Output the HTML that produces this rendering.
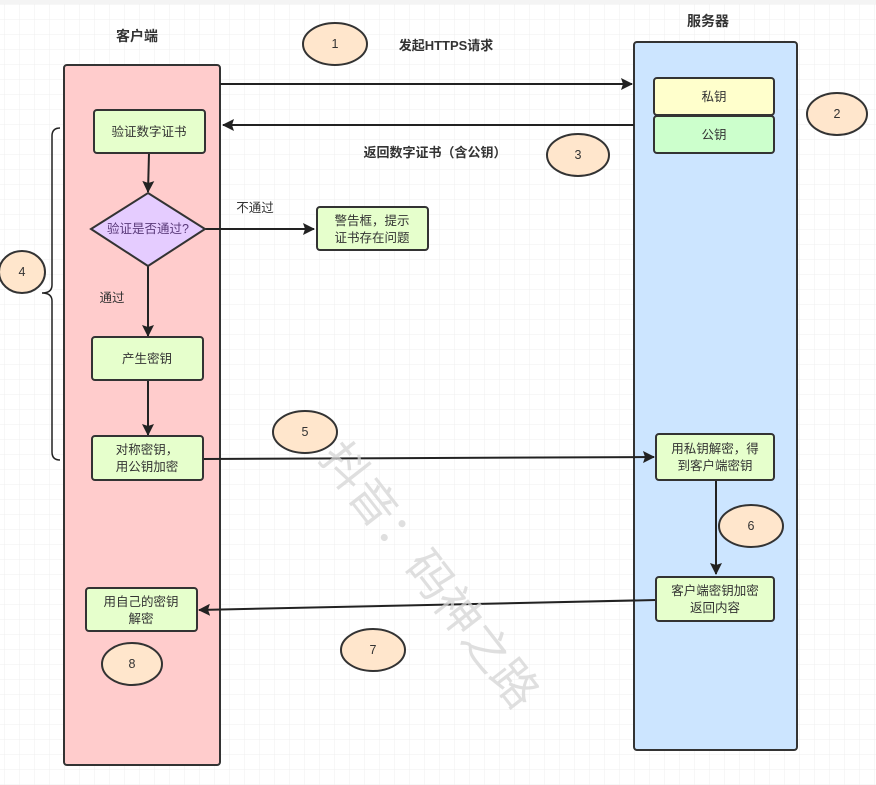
<!DOCTYPE html>
<html><head><meta charset="utf-8"><style>
html,body{margin:0;padding:0;background:#fff;}
svg{display:block;}
text{font-family:"Liberation Sans","Noto Sans CJK SC",sans-serif;}
</style></head><body>
<svg width="876" height="785" viewBox="0 0 876 785" xmlns="http://www.w3.org/2000/svg">
<defs>
<pattern id="g" width="15" height="15" patternUnits="userSpaceOnUse" x="5" y="5">
<path d="M15 0V15M0 15H15" fill="none" stroke="#efefef" stroke-width="1"/>
</pattern>
<marker id="a" markerWidth="12" markerHeight="12" refX="11" refY="6" orient="auto" markerUnits="userSpaceOnUse">
<path d="M0 0L12 6L0 12L2 6Z" fill="#222"/>
</marker>
</defs>
<rect width="876" height="785" fill="url(#g)"/>
<rect x="0" y="0" width="876" height="4" fill="#f4f4f4"/>

<rect x="64" y="65" width="156" height="700" rx="3" fill="#ffcccc" stroke="#333" stroke-width="2"/>
<rect x="634" y="42" width="163" height="708" rx="3" fill="#cce5ff" stroke="#333" stroke-width="2"/>
<text x="137" y="41" font-size="14" font-weight="bold" text-anchor="middle" fill="#333">客户端</text>
<text x="708" y="26" font-size="14" font-weight="bold" text-anchor="middle" fill="#333">服务器</text>

<g stroke="#222" stroke-width="2" fill="none">
<path d="M220 84H632" marker-end="url(#a)"/>
<path d="M634 125H223" marker-end="url(#a)"/>
<path d="M149 153L148 192" marker-end="url(#a)"/>
<path d="M205 229H314" marker-end="url(#a)"/>
<path d="M148 266V336" marker-end="url(#a)"/>
<path d="M148 380V435" marker-end="url(#a)"/>
<path d="M203 459L654 457" marker-end="url(#a)"/>
<path d="M716 480V574" marker-end="url(#a)"/>
<path d="M656 600L199 610" marker-end="url(#a)"/>
<path d="M60 128Q52 128 52 136V285Q52 293 42 293Q52 293 52 301V452Q52 460 60 460" stroke-width="1.5"/>
</g>

<g stroke="#333" stroke-width="2">
<rect x="654" y="78" width="120" height="37" rx="3" fill="#ffffcc"/>
<rect x="654" y="116" width="120" height="37" rx="3" fill="#ccffcc"/>
<rect x="94" y="110" width="111" height="43" rx="3" fill="#e6ffcc"/>
<path d="M148 193L205 229L148 266L91 229Z" fill="#e5ccff"/>
<rect x="317" y="207" width="111" height="43" rx="3" fill="#e6ffcc"/>
<rect x="92" y="337" width="111" height="43" rx="3" fill="#e6ffcc"/>
<rect x="92" y="436" width="111" height="44" rx="3" fill="#e6ffcc"/>
<rect x="656" y="434" width="118" height="46" rx="3" fill="#e6ffcc"/>
<rect x="656" y="577" width="118" height="44" rx="3" fill="#e6ffcc"/>
<rect x="86" y="588" width="111" height="43" rx="3" fill="#e6ffcc"/>
<g fill="#ffe6cc">
<ellipse cx="335" cy="44" rx="32" ry="21"/>
<ellipse cx="837" cy="114" rx="30" ry="21"/>
<ellipse cx="578" cy="155" rx="31" ry="21"/>
<ellipse cx="22" cy="272" rx="23" ry="21"/>
<ellipse cx="305" cy="432" rx="32" ry="21"/>
<ellipse cx="751" cy="526" rx="32" ry="21"/>
<ellipse cx="373" cy="650" rx="32" ry="21"/>
<ellipse cx="132" cy="664" rx="30" ry="21"/>
</g>
</g>

<g font-size="12.5" fill="#333" text-anchor="middle">
<text x="335" y="48">1</text><text x="837" y="118">2</text><text x="578" y="159">3</text>
<text x="22" y="276">4</text><text x="305" y="436">5</text><text x="751" y="530">6</text>
<text x="373" y="654">7</text><text x="132" y="668">8</text>
<text x="714" y="101">私钥</text>
<text x="714" y="139">公钥</text>
<text x="149" y="136">验证数字证书</text>
<text x="148" y="233" fill="#5a3a7a">验证是否通过?</text>
<text x="372" y="225">警告框，提示</text>
<text x="372" y="242">证书存在问题</text>
<text x="147" y="363">产生密钥</text>
<text x="147" y="454">对称密钥，</text>
<text x="147" y="471">用公钥加密</text>
<text x="715" y="453">用私钥解密，得</text>
<text x="715" y="470">到客户端密钥</text>
<text x="715" y="595">客户端密钥加密</text>
<text x="715" y="612">返回内容</text>
<text x="141" y="606">用自己的密钥</text>
<text x="141" y="623">解密</text>
<text x="255" y="212">不通过</text>
<text x="112" y="302">通过</text>
</g>
<g font-size="13" font-weight="bold" fill="#333" text-anchor="middle">
<text x="446" y="50">发起HTTPS请求</text>
<text x="435" y="157">返回数字证书（含公钥）</text>
</g>
<text x="0" y="0" font-size="46" fill="#d4d4d4" fill-opacity="0.75" transform="translate(318,458) rotate(52)">抖音：码神之路</text>
</svg>
</body></html>
